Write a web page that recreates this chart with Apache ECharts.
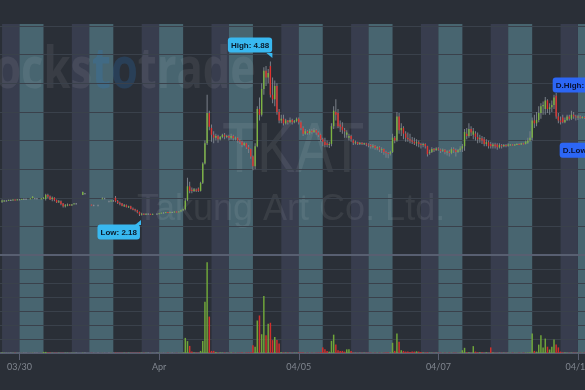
<!DOCTYPE html>
<html><head><meta charset="utf-8">
<script src="https://cdn.jsdelivr.net/npm/echarts@6/dist/echarts.min.js"></script>
<style>html,body{margin:0;padding:0;background:#2a2f37;}#c{width:585px;height:390px;}</style>
</head><body><div id="c"></div>
<script>
// ---------------- DATA ----------------
// 30-minute bars, 04:00-20:00 (pre 04:00-09:30, regular 09:30-16:00, after 16:00-20:00)
const days = ['03/29','03/30','03/31','04/01','04/04','04/05','04/06','04/07','04/08','04/11'];
const firstBarOfDay = [23,0,0,0,0,0,0,0,0,0];
const tickDays = ['03/30','04/01','04/05','04/07','04/11'];
const tickLabels = ['03/30','Apr','04/05','04/07','04/11'];

// each bar: [open, close, low, high]
const ohlc_0329 = [[2.43,2.45,2.41,2.47],[2.44,2.45,2.43,2.46],[2.45,2.45,2.44,2.46],[2.45,2.46,2.45,2.47],[2.46,2.46,2.45,2.47],[2.46,2.47,2.46,2.47],[2.47,2.46,2.45,2.47],[2.46,2.47,2.46,2.48],[2.47,2.47,2.46,2.48]];
const ohlc_0330 = [[2.47,2.48,2.47,2.48],[2.48,2.48,2.47,2.49],[2.48,2.48,2.48,2.49],null,[2.48,2.49,2.48,2.49],[2.49,2.52,2.49,2.53],[2.49,2.49,2.48,2.50],[2.49,2.49,2.48,2.49],null,[2.48,2.49,2.48,2.49],[2.49,2.50,2.48,2.51],
  [2.48,2.55,2.45,2.57],[2.55,2.52,2.49,2.57],[2.52,2.47,2.46,2.54],[2.48,2.50,2.44,2.52],[2.50,2.46,2.44,2.51],[2.46,2.42,2.41,2.47],[2.43,2.44,2.41,2.46],[2.44,2.39,2.37,2.45],[2.40,2.35,2.33,2.41],[2.35,2.37,2.33,2.39],[2.37,2.38,2.35,2.40],[2.38,2.37,2.36,2.39],[2.37,2.38,2.36,2.39],
  [2.39,2.40,2.39,2.41],[2.40,2.40,2.40,2.41],null,null,[2.55,2.60,2.55,2.61],[2.58,2.58,2.57,2.58],null,null];
const ohlc_0331 = [[2.38,2.37,2.37,2.38],[2.37,2.37,2.36,2.38],null,[2.37,2.37,2.37,2.38],null,[2.48,2.49,2.48,2.51],[2.49,2.49,2.48,2.50],null,[2.44,2.44,2.44,2.45],[2.44,2.45,2.44,2.45],[2.45,2.45,2.44,2.46],
  [2.50,2.44,2.42,2.53],[2.44,2.41,2.39,2.46],[2.41,2.40,2.37,2.43],[2.40,2.36,2.35,2.41],[2.36,2.37,2.34,2.39],[2.37,2.34,2.33,2.38],[2.34,2.35,2.32,2.36],[2.35,2.31,2.30,2.36],[2.31,2.30,2.28,2.33],[2.30,2.28,2.26,2.31],[2.28,2.25,2.23,2.29],[2.25,2.21,2.18,2.26],[2.21,2.22,2.19,2.24],
  [2.22,2.21,2.20,2.23],[2.21,2.22,2.20,2.23],[2.22,2.22,2.21,2.23],[2.22,2.21,2.20,2.22],[2.21,2.22,2.21,2.22],null,[2.22,2.22,2.21,2.23],[2.22,2.23,2.22,2.23]];
const ohlc_0401 = [[2.23,2.24,2.23,2.24],[2.24,2.24,2.23,2.25],[2.24,2.25,2.24,2.25],[2.25,2.24,2.24,2.25],[2.24,2.25,2.24,2.26],[2.25,2.25,2.24,2.26],[2.25,2.26,2.25,2.26],[2.26,2.25,2.25,2.26],[2.25,2.26,2.25,2.27],[2.26,2.28,2.26,2.29],[2.28,2.30,2.27,2.31],
  [2.30,2.45,2.28,2.49],[2.46,2.70,2.44,2.85],[2.70,2.62,2.58,2.78],[2.64,2.62,2.58,2.68],[2.62,2.65,2.60,2.67],[2.64,2.63,2.60,2.66],[2.66,2.62,2.60,2.68],[2.62,2.76,2.61,2.78],[2.76,3.10,2.74,3.12],[3.10,3.45,3.08,3.50],[3.45,3.98,3.42,4.30],[3.98,3.74,3.68,4.02],[3.72,3.60,3.48,3.78],
  [3.60,3.55,3.45,3.66],[3.55,3.58,3.50,3.62],[3.58,3.52,3.46,3.60],[3.52,3.56,3.50,3.58],[3.56,3.60,3.54,3.62],[3.60,3.57,3.52,3.63],[3.57,3.58,3.54,3.60],[3.58,3.55,3.50,3.60]];
const ohlc_0404 = [[3.55,3.58,3.52,3.62],[3.58,3.54,3.50,3.60],[3.54,3.55,3.50,3.57],[3.55,3.50,3.46,3.56],[3.50,3.48,3.44,3.52],[3.48,3.42,3.38,3.50],[3.42,3.45,3.40,3.47],[3.45,3.38,3.35,3.46],[3.38,3.35,3.28,3.42],[3.35,3.22,3.18,3.36],[3.22,3.05,2.98,3.24],
  [3.05,3.40,3.00,3.45],[3.40,4.05,3.38,4.10],[4.05,3.95,3.85,4.25],[3.95,4.40,3.92,4.50],[4.40,4.72,4.30,4.78],[4.72,4.60,4.45,4.80],[4.60,4.68,4.50,4.75],[4.80,4.30,4.25,4.88],[4.30,4.22,4.15,4.60],[4.22,4.45,4.10,4.55],[4.45,4.00,3.95,4.50],[4.00,3.85,3.80,4.05],[3.85,3.88,3.80,3.95],
  [3.88,3.80,3.76,3.95],[3.80,3.85,3.78,3.88],[3.85,3.82,3.78,3.86],[3.82,3.86,3.80,3.90],[3.86,3.82,3.78,3.88],[3.82,3.84,3.80,3.86],[3.84,3.88,3.82,3.90],[3.88,3.82,3.78,3.90]];
const ohlc_0405 = [[3.82,3.72,3.68,3.85],[3.72,3.62,3.58,3.75],[3.62,3.66,3.60,3.70],[3.66,3.63,3.60,3.68],[3.63,3.67,3.60,3.70],[3.67,3.65,3.62,3.70],[3.65,3.68,3.63,3.72],[3.68,3.64,3.60,3.70],[3.64,3.60,3.56,3.66],[3.60,3.52,3.48,3.62],[3.52,3.48,3.40,3.55],
  [3.48,3.42,3.38,3.55],[3.45,3.42,3.38,3.50],[3.42,3.44,3.37,3.48],[3.44,3.75,3.40,3.80],[3.75,4.02,3.70,4.10],[4.00,3.95,3.85,4.22],[3.98,3.75,3.72,4.05],[3.78,3.74,3.65,3.85],[3.74,3.68,3.62,3.82],[3.68,3.66,3.55,3.72],[3.60,3.64,3.55,3.68],[3.55,3.58,3.50,3.62],[3.58,3.52,3.48,3.60],
  [3.50,3.46,3.42,3.52],[3.46,3.47,3.43,3.50],[3.47,3.44,3.42,3.48],[3.44,3.46,3.42,3.47],[3.46,3.44,3.42,3.47],[3.44,3.45,3.42,3.46],[3.45,3.43,3.40,3.46],[3.43,3.42,3.38,3.45]];
const ohlc_0406 = [[3.42,3.40,3.36,3.44],[3.40,3.41,3.36,3.44],[3.41,3.37,3.34,3.42],[3.37,3.38,3.33,3.40],[3.38,3.34,3.30,3.40],[3.34,3.35,3.28,3.38],[3.35,3.30,3.25,3.36],[3.30,3.28,3.20,3.32],[3.28,3.27,3.19,3.30],[3.27,3.30,3.24,3.32],[3.30,3.55,3.28,3.62],
  [3.55,3.50,3.45,3.58],[3.50,3.92,3.48,4.00],[3.92,3.68,3.62,3.98],[3.68,3.72,3.58,3.80],[3.72,3.62,3.52,3.75],[3.62,3.55,3.48,3.66],[3.55,3.52,3.48,3.64],[3.52,3.50,3.45,3.62],[3.50,3.48,3.44,3.56],[3.48,3.45,3.42,3.55],[3.45,3.47,3.40,3.52],[3.47,3.44,3.38,3.50],[3.44,3.42,3.36,3.46],
  [3.42,3.44,3.38,3.46],[3.44,3.40,3.36,3.45],[3.40,3.26,3.22,3.41],[3.28,3.30,3.25,3.34],[3.30,3.35,3.28,3.38],[3.35,3.33,3.30,3.37],[3.33,3.36,3.32,3.38],[3.36,3.34,3.32,3.38]];
const ohlc_0407 = [[3.34,3.32,3.28,3.36],[3.32,3.34,3.30,3.36],[3.34,3.30,3.26,3.35],[3.30,3.31,3.24,3.33],[3.31,3.28,3.22,3.34],[3.28,3.35,3.26,3.38],[3.35,3.33,3.28,3.38],[3.33,3.30,3.22,3.36],[3.30,3.33,3.28,3.35],[3.33,3.36,3.30,3.40],[3.36,3.40,3.30,3.44],
  [3.40,3.65,3.32,3.70],[3.62,3.58,3.52,3.72],[3.58,3.70,3.55,3.80],[3.70,3.64,3.58,3.75],[3.60,3.66,3.52,3.72],[3.62,3.56,3.50,3.66],[3.56,3.52,3.45,3.64],[3.52,3.54,3.46,3.60],[3.54,3.50,3.44,3.58],[3.52,3.44,3.40,3.56],[3.44,3.47,3.40,3.52],[3.47,3.40,3.36,3.50],[3.44,3.40,3.36,3.48],
  [3.40,3.43,3.36,3.46],[3.43,3.40,3.36,3.46],[3.43,3.38,3.34,3.45],[3.38,3.42,3.36,3.45],[3.42,3.40,3.36,3.44],[3.40,3.42,3.38,3.44],[3.42,3.41,3.38,3.44],[3.41,3.43,3.39,3.45]];
const ohlc_0408 = [[3.42,3.43,3.41,3.44],[3.43,3.42,3.41,3.44],[3.42,3.43,3.41,3.44],[3.43,3.44,3.42,3.45],[3.44,3.43,3.42,3.45],[3.43,3.45,3.42,3.46],[3.45,3.44,3.43,3.46],[3.44,3.48,3.43,3.50],[3.46,3.50,3.44,3.55],[3.50,3.55,3.48,3.66],[3.55,3.85,3.50,3.90],
  [3.85,3.80,3.72,3.95],[3.80,3.86,3.75,4.00],[3.86,3.98,3.82,4.10],[3.98,4.10,3.88,4.15],[4.10,4.12,3.95,4.18],[4.05,4.20,3.95,4.26],[4.20,4.05,3.98,4.22],[4.05,4.08,3.95,4.15],[4.08,4.12,4.00,4.20],[4.12,4.25,4.05,4.30],[4.28,3.92,3.88,4.33],[3.92,3.85,3.80,3.98],[3.85,3.82,3.78,3.92],
  [3.90,3.82,3.80,3.95],[3.82,3.86,3.80,3.90],[3.86,3.92,3.84,3.95],[3.92,3.88,3.85,3.95],[3.88,3.95,3.86,4.02],[3.95,3.92,3.88,4.00],[3.92,3.90,3.85,3.95],[3.90,3.92,3.86,3.95]];
const ohlc_0411 = [[3.92,3.90,3.88,3.94],[3.90,3.91,3.88,3.93],[3.91,3.90,3.88,3.92]];

// volume per bar (millions)
const vol_0329 = [0.03,0.02,0.01,0.01,0.01,0.01,0.01,0.01,0.01];
const vol_0330 = [0.01,0.01,0.01,0,0.01,0.02,0.01,0.01,0,0.01,0.08, 0.08,0.03,0.03,0.02,0.02,0.02,0.02,0.02,0.02,0.02,0.02,0.01,0.01, 0.01,0.01,0,0,0.01,0.01,0,0];
const vol_0331 = [0.01,0.01,0,0.01,0,0.01,0.01,0,0.01,0.01,0.01, 0.03,0.02,0.02,0.02,0.02,0.02,0.02,0.02,0.02,0.02,0.02,0.03,0.02, 0.01,0.01,0.01,0.01,0.01,0,0.01,0.01];
const vol_0401 = [0.01,0.01,0.01,0.01,0.01,0.01,0.01,0.01,0.01,0.02,0.03, 1.08,0.85,0.51,0.10,0.03,0.03,0.03,0.15,0.85,3.66,6.48,2.60,0.15, 0.15,0.08,0.04,0.03,0.03,0.03,0.02,0.02];
const vol_0404 = [0.03,0.02,0.02,0.02,0.02,0.03,0.02,0.03,0.04,0.05,0.56, 0.45,2.32,2.68,1.34,4.08,1.27,2.09,2.16,0.92,1.15,0.92,0.68,0.05, 0.04,0.03,0.03,0.02,0.02,0.02,0.02,0.03];
const vol_0405 = [0.03,0.03,0.02,0.02,0.02,0.02,0.02,0.02,0.03,0.05,0.40, 0.26,0.15,0.10,0.87,1.31,0.60,0.20,0.15,0.15,0.10,0.26,0.26,0.15, 0.03,0.02,0.02,0.02,0.02,0.02,0.02,0.02];
const vol_0406 = [0.02,0.02,0.02,0.02,0.02,0.02,0.02,0.03,0.03,0.05,0.73, 0.15,1.39,0.80,0.20,0.15,0.10,0.10,0.08,0.10,0.10,0.12,0.10,0.08, 0.03,0.03,0.05,0.02,0.02,0.02,0.02,0.02];
const vol_0407 = [0.02,0.02,0.02,0.02,0.02,0.02,0.02,0.02,0.02,0.03,0.20, 0.37,0.05,0.05,0.02,0.49,0.10,0.05,0.05,0.05,0.02,0.05,0.02,0.40, 0.03,0.02,0.02,0.02,0.02,0.02,0.02,0.02];
const vol_0408 = [0.02,0.02,0.02,0.02,0.02,0.02,0.02,0.03,0.04,0.05,1.39, 0.15,0.10,0.60,1.27,0.40,1.03,0.45,0.25,0.45,0.96,0.60,0.40,0.10, 0.04,0.03,0.02,0.02,0.02,0.02,0.02,0.02];
const vol_0411 = [0.02,0.02,0.02];

const ohlcByDay = [ohlc_0329,ohlc_0330,ohlc_0331,ohlc_0401,ohlc_0404,ohlc_0405,ohlc_0406,ohlc_0407,ohlc_0408,ohlc_0411];
const volByDay  = [vol_0329,vol_0330,vol_0331,vol_0401,vol_0404,vol_0405,vol_0406,vol_0407,vol_0408,vol_0411];

// ---------------- BUILD ----------------
const BARS_PER_DAY = 32, PRE_END = 11, REG_END = 24;
const dayBase = di => (di - 1) * BARS_PER_DAY;   // 03/30 04:00 = 0
const candles = [], volumes = [], bands = [];
const dayExtremes = {};
days.forEach((d, di) => {
  const base = dayBase(di) + firstBarOfDay[di];
  let hi = -Infinity, lo = Infinity, hiX = 0;
  ohlcByDay[di].forEach((c, j) => {
    if (!c) return;
    const x = base + j + 1;               // bar plotted at its close time
    candles.push([x, c[0], c[1], c[2], c[3]]);
    volumes.push([x, volByDay[di][j], Math.sign(c[1] - c[0])]);
    if (c[3] > hi) { hi = c[3]; hiX = x; }
    if (c[2] < lo) lo = c[2];
  });
  dayExtremes[d] = {hi, lo, hiX};
  bands.push([dayBase(di), dayBase(di) + PRE_END, 0]);
  bands.push([dayBase(di) + REG_END, dayBase(di) + BARS_PER_DAY, 1]);
});
const tickValues = tickDays.map(d => dayBase(days.indexOf(d)));

let hiC = candles[0], loC = candles[0];
candles.forEach(c => { if (c[4] > hiC[4]) hiC = c; if (c[3] < loC[3]) loC = c; });
const lastDay = dayExtremes['04/08'];

const X_MIN = -8.94, X_MAX = 259.21;
const UP = '#7cb342', DOWN = '#e0332f', FLAT = '#8a9098', WICK = '#7a8089';
const TEAL = '#486570', SLATE = '#383d4e';
const GRIDLINE = '#3a414b';

function renderBand(params, api) {
  const cs = params.coordSys;
  const x0 = api.coord([api.value(0), 0])[0];
  const x1 = api.coord([api.value(1), 0])[0];
  const shape = echarts.graphic.clipRectByRect(
    {x: x0, y: cs.y, width: x1 - x0, height: cs.height},
    {x: cs.x, y: cs.y, width: cs.width, height: cs.height});
  if (!shape) return;
  return {type: 'rect', shape, style: {fill: api.value(2) === 0 ? TEAL : SLATE}};
}
function renderCandle(params, api) {
  const x = api.value(0), o = api.value(1), c = api.value(2), l = api.value(3), h = api.value(4);
  const pO = api.coord([x, o]), pC = api.coord([x, c]), pL = api.coord([x, l]), pH = api.coord([x, h]);
  const col = c > o ? UP : (c < o ? DOWN : FLAT);
  const bw = 1.4;
  const top = Math.min(pO[1], pC[1]);
  const bh = Math.max(Math.abs(pO[1] - pC[1]), 1);
  return {type: 'group', children: [
    {type: 'rect', shape: {x: pH[0] - 0.5, y: pH[1], width: 1, height: Math.max(pL[1] - pH[1], 1)}, style: {fill: WICK}},
    {type: 'rect', shape: {x: pO[0] - bw / 2, y: top, width: bw, height: bh}, style: {fill: col}}
  ]};
}
function renderVolume(params, api) {
  const x = api.value(0), v = api.value(1), dir = api.value(2);
  const p0 = api.coord([x, 0]), p1 = api.coord([x, v]);
  const bw = 1.5;
  return {type: 'rect', shape: {x: p0[0] - bw / 2, y: p1[1], width: bw, height: p0[1] - p1[1]},
    style: {fill: dir > 0 ? '#6fa53a' : (dir < 0 ? '#d0302c' : FLAT)}};
}

const calloutLabel = (bg, color) => ({
  show: true, backgroundColor: bg, color: color, borderRadius: 3,
  padding: [3, 3, 2, 3], fontSize: 8, lineHeight: 10, fontWeight: 'bold',
  fontFamily: 'Liberation Sans', align: 'left', verticalAlign: 'top'
});

const chart = echarts.init(document.getElementById('c'), null, {renderer: 'canvas'});
chart.setOption({
  animation: false,
  backgroundColor: '#2a2f37',
  grid: [
    {left: 0, right: 0, top: 24, height: 329, outerBoundsMode: 'none'},
    {left: 0, right: 0, top: 26, height: 229, outerBoundsMode: 'none'},
    {left: 0, right: 0, top: 255, height: 98, outerBoundsMode: 'none'}
  ],
  xAxis: [
    {gridIndex: 0, type: 'value', min: X_MIN, max: X_MAX, position: 'top', z: 2,
     axisLine: {show: true, lineStyle: {color: '#565d70', width: 1.5}}, axisTick: {show: false}, axisLabel: {show: false}, splitLine: {show: false}},
    {gridIndex: 1, type: 'value', min: X_MIN, max: X_MAX, z: 2,
     axisLine: {show: true, onZero: false, lineStyle: {color: '#585f71', width: 2}}, axisTick: {show: false}, axisLabel: {show: false}, splitLine: {show: false}},
    {gridIndex: 2, type: 'value', min: X_MIN, max: X_MAX, z: 2,
     axisLine: {show: true, onZero: false, lineStyle: {color: '#5a6072', width: 1.5}},
     axisTick: {show: true, customValues: tickValues, length: 7, lineStyle: {color: '#5a6072'}},
     axisLabel: {show: true, customValues: tickValues, color: '#80868f', fontSize: 9, fontFamily: 'Lato', margin: 10,
       formatter: v => tickLabels[tickValues.indexOf(Math.round(v))] || ''},
     splitLine: {show: false}}
  ],
  yAxis: [
    {gridIndex: 0, type: 'value', min: 0, max: 1, show: false},
    {gridIndex: 1, type: 'value', min: 1.5, max: 5.5, interval: 0.5, z: 1,
     axisLine: {show: false}, axisTick: {show: false}, axisLabel: {show: false},
     splitLine: {show: true, lineStyle: {color: GRIDLINE, width: 1}}},
    {gridIndex: 2, type: 'value', min: 0, max: 7, interval: 1, z: 1,
     axisLine: {show: false}, axisTick: {show: false}, axisLabel: {show: false},
     splitLine: {show: true, lineStyle: {color: GRIDLINE, width: 1}}}
  ],
  graphic: {elements: [
    {type: 'text', x: 256, y: 71, scaleX: 0.75, z: 1, silent: true,
     style: {text: '{a|stocks}{b|to}{a|trade}', align: 'right', verticalAlign: 'middle',
       rich: {a: {fontSize: 58, fontWeight: 'bold', fontFamily: 'Open Sans', fill: 'rgba(255,255,255,0.07)'},
              b: {fontSize: 58, fontWeight: 'bold', fontFamily: 'Open Sans', fill: 'rgba(40,130,215,0.2)'}}}},
    {type: 'text', x: 222, y: 153, scaleX: 0.82, z: 1, silent: true,
     style: {text: 'TKAT', fontSize: 70, fontFamily: 'Liberation Sans', fill: 'rgba(255,255,255,0.075)', align: 'left', verticalAlign: 'middle'}},
    {type: 'text', x: 137, y: 210, z: 1, silent: true,
     style: {text: 'Takung Art Co. Ltd.', fontSize: 36, fontFamily: 'Liberation Sans', fill: 'rgba(255,255,255,0.075)', align: 'left', verticalAlign: 'middle'}}
  ]},
  series: [
    {type: 'custom', name: 'sessions', xAxisIndex: 0, yAxisIndex: 0, z: 0, silent: true,
     renderItem: renderBand, data: bands, encode: {x: [0, 1]}},
    {type: 'custom', name: 'TKAT', xAxisIndex: 1, yAxisIndex: 1, z: 3, clip: true,
     renderItem: renderCandle, data: candles, encode: {x: 0, y: [1, 2, 3, 4]},
     markPoint: {
       z: 6, symbol: 'circle', symbolSize: 1, itemStyle: {color: 'rgba(0,0,0,0)'},
       data: [
         {coord: [hiC[0], hiC[4]], label: Object.assign(calloutLabel('#38b8f0', '#0a1a2b'), {position: [-42, -23.5], formatter: 'High: ' + hiC[4].toFixed(2)})},
         {coord: [hiC[0], hiC[4]], symbol: 'path://M0,0 L10,0 L10,10 Z', symbolSize: [6, 5], symbolOffset: [-1, -6], itemStyle: {color: '#38b8f0'}, label: {show: false}},
         {coord: [loC[0], loC[3]], label: Object.assign(calloutLabel('#38b8f0', '#0a1a2b'), {position: [-41.5, 9], formatter: 'Low: ' + loC[3].toFixed(2)})},
         {coord: [loC[0], loC[3]], symbol: 'path://M10,0 L10,10 L0,10 Z', symbolSize: [6, 5], symbolOffset: [-1.5, 6.5], itemStyle: {color: '#38b8f0'}, label: {show: false}},
         {coord: [lastDay.hiX, lastDay.hi], label: Object.assign(calloutLabel('#2c66f5', '#0a1233'), {position: [-3, -15], formatter: 'D.High: ' + lastDay.hi.toFixed(2)})},
         {coord: [lastDay.hiX, lastDay.lo], label: Object.assign(calloutLabel('#2c66f5', '#0a1233'), {position: [4, -2.5], formatter: 'D.Low: ' + lastDay.lo.toFixed(2)})}
       ]}},
    {type: 'custom', name: 'Volume', xAxisIndex: 2, yAxisIndex: 2, z: 3, clip: true,
     renderItem: renderVolume, data: volumes, encode: {x: 0, y: 1}}
  ]
});
</script>
</body></html>
